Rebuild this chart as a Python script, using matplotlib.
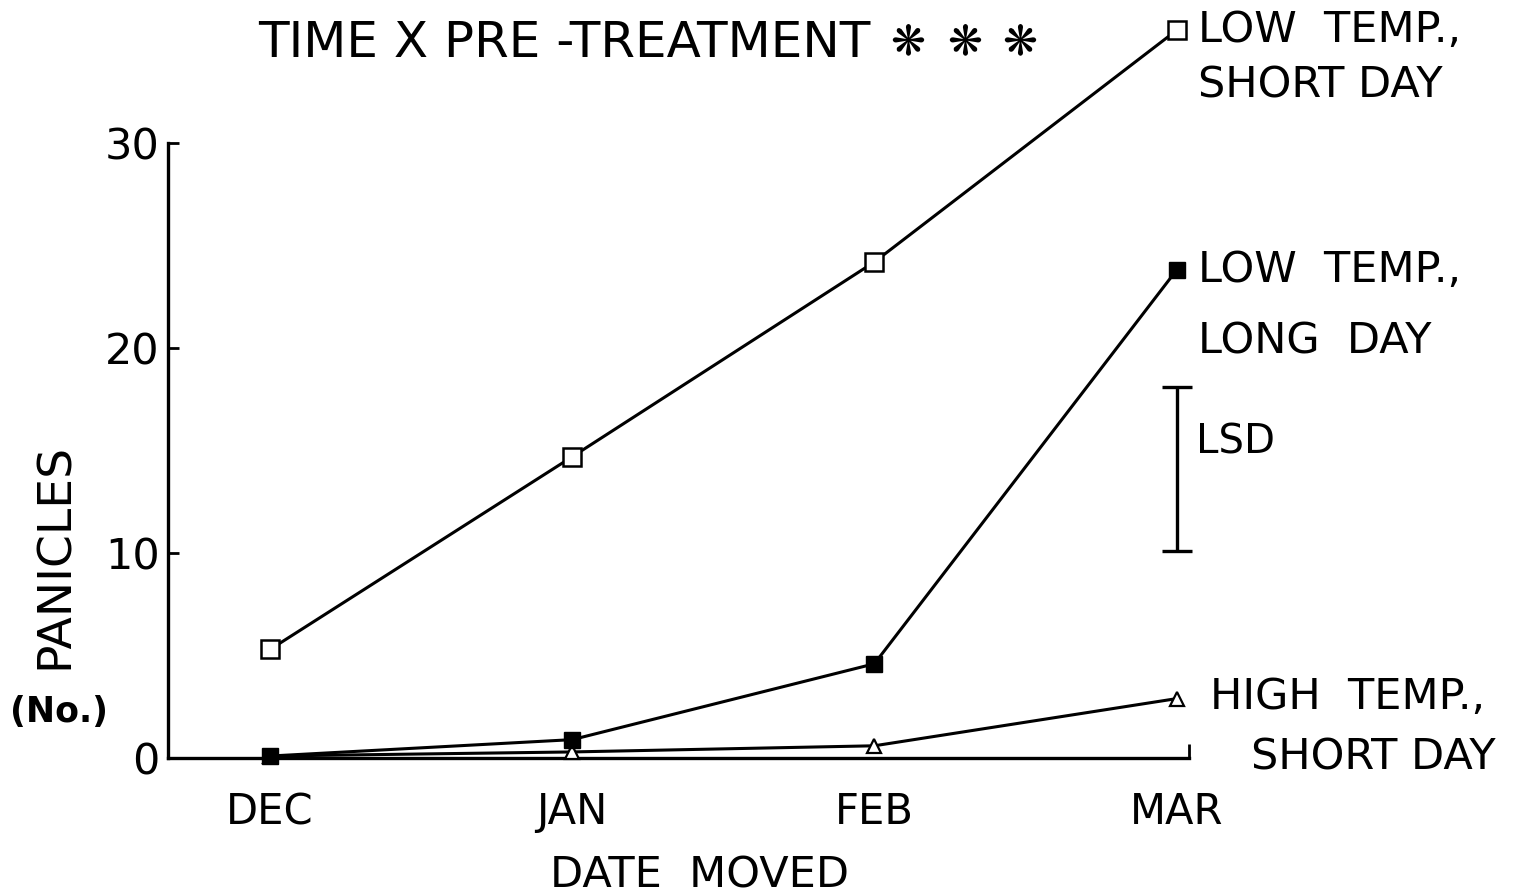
import matplotlib

matplotlib.use("Agg")
import matplotlib.pyplot as plt

# data
months = ["DEC", "JAN", "FEB", "MAR"]
low_temp_short_day = [5.3, 14.7, 24.2, 35.5]
low_temp_long_day = [0.1, 0.9, 4.6, 23.8]
high_temp_short_day = [0.1, 0.3, 0.6, 2.9]
lsd_low, lsd_high = 10.1, 18.1

plt.rcParams["font.family"] = ["DejaVu Sans"]

fig = plt.figure(figsize=(15.3, 8.94), dpi=100)
ax = fig.add_axes([0, 0, 1, 1])
ax.set_xlim(-0.894, 4.17)
ax.set_ylim(-6.63, 36.98)

x = list(range(len(months)))
lw = 2.2
ax.plot(x, low_temp_short_day, color="black", lw=lw, marker="s", ms=13,
        mfc="white", mec="black", mew=1.8, zorder=3)
ax.plot(x, high_temp_short_day, color="black", lw=lw, marker="^", ms=10,
        mfc="white", mec="black", mew=1.6, zorder=3)
ax.plot(x, low_temp_long_day, color="black", lw=lw, marker="s", ms=12,
        mfc="black", mec="black", zorder=4)

# LSD bar next to the March points
lsd_x = 3.0
ax.errorbar([lsd_x], [(lsd_low + lsd_high) / 2], yerr=[(lsd_high - lsd_low) / 2],
            fmt="none", ecolor="black", elinewidth=2.4, capsize=10.5, capthick=2.4)
ax.text(lsd_x + 0.065, 15.4, "LSD", fontsize=29, va="center", ha="left")

# axes spines drawn like the original
for side in ("top", "right"):
    ax.spines[side].set_visible(False)
ax.spines["left"].set_position(("data", -0.338))
ax.spines["left"].set_bounds(0, 30)
ax.spines["bottom"].set_position(("data", 0))
ax.spines["bottom"].set_bounds(-0.338, 3.04)
for side in ("left", "bottom"):
    ax.spines[side].set_linewidth(2.4)

ax.set_yticks([0, 10, 20, 30])
ax.set_yticklabels(["0", "10", "20", "30"], fontsize=31)
ax.tick_params(axis="y", direction="in", length=8, width=2, pad=6)
ax.set_xticks(x)
ax.set_xticklabels(months, fontsize=30)
ax.tick_params(axis="x", length=0, pad=24)
ax.set_xticks([3.04], minor=True)
ax.tick_params(axis="x", which="minor", direction="in", length=10, width=2)

ax.text(1.42, -5.75, "DATE  MOVED", fontsize=31, ha="center", va="center")
ax.text(-0.71, 9.85, "PANICLES", fontsize=34, rotation=90, ha="center", va="center")
ax.text(-0.70, 2.24, "(No.)", fontsize=25, ha="center", va="center",
        fontweight="bold")

ax.text(-0.04, 34.9, "TIME X PRE -TREATMENT", fontsize=36, ha="left", va="center")
for sx in (2.11, 2.30, 2.48):
    ax.text(sx, 34.9, "\u274b", fontsize=30, ha="center", va="center")

# series labels on the right
ax.text(3.07, 35.5, "LOW  TEMP.,", fontsize=31, ha="left", va="center")
ax.text(3.07, 32.8, "SHORT DAY", fontsize=31, ha="left", va="center")
ax.text(3.07, 23.8, "LOW  TEMP.,", fontsize=31, ha="left", va="center")
ax.text(3.07, 20.3, "LONG  DAY", fontsize=31, ha="left", va="center")
ax.text(3.11, 3.0, "HIGH  TEMP.,", fontsize=31, ha="left", va="center")
ax.text(3.245, 0.05, "SHORT DAY", fontsize=31, ha="left", va="center")

fig.savefig("out.png", dpi=100, facecolor="white")
